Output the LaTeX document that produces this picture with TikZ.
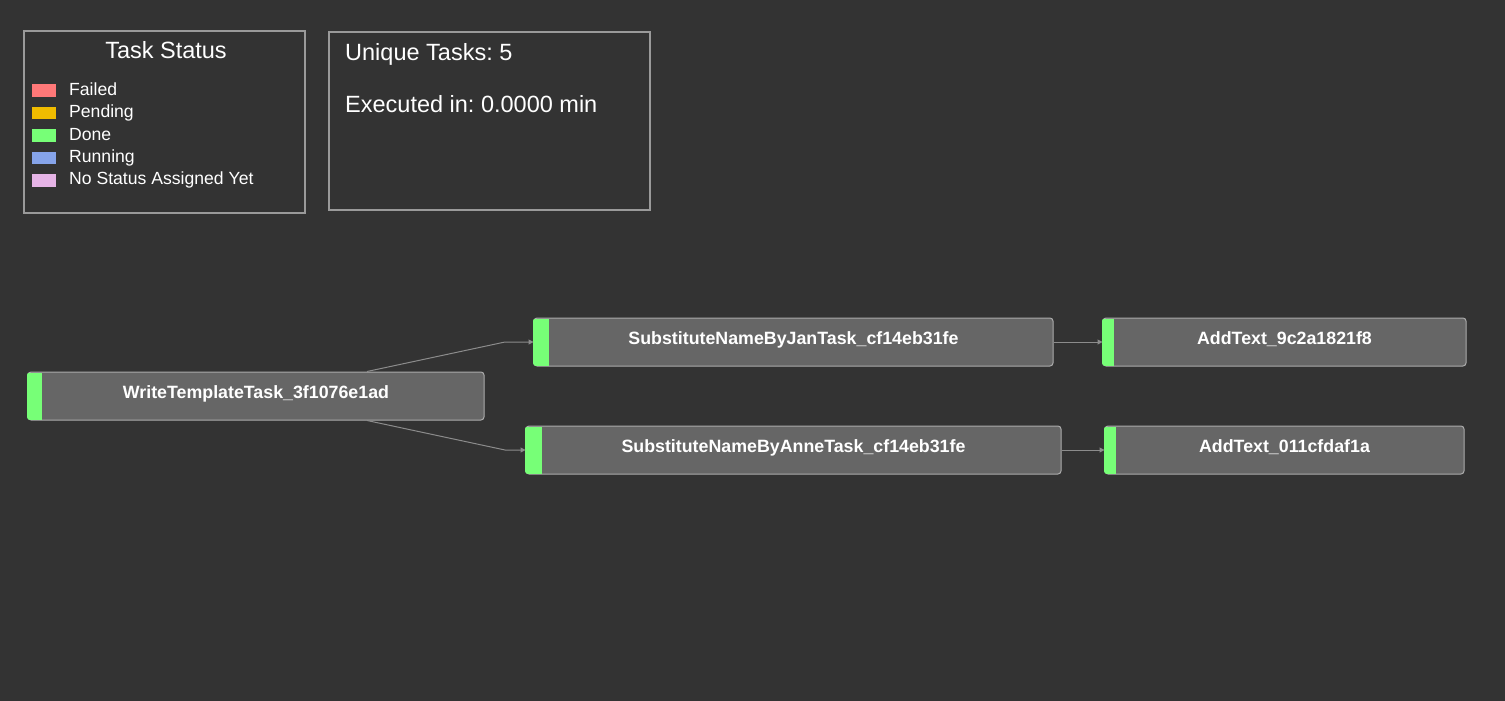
\documentclass[tikz,border=0pt]{standalone}
\usepackage{fontspec}
\setmainfont{Liberation Sans}
\usetikzlibrary{arrows.meta,calc}
\frenchspacing
\definecolor{bg}{HTML}{333333}
\definecolor{panelline}{HTML}{9A9A9A}
\definecolor{nodefill}{HTML}{666666}
\definecolor{nodeline}{HTML}{ABABAB}
\definecolor{edgecol}{HTML}{8C8C8C}
\definecolor{failed}{HTML}{FF7878}
\definecolor{pending}{HTML}{F0BC00}
\definecolor{done}{HTML}{77FF77}
\definecolor{running}{HTML}{86A4EA}
\definecolor{nostatus}{HTML}{E6B4E6}
\tikzset{
  panel/.style={draw=panelline, line width=2pt, inner sep=0pt, anchor=north west},
  swatch/.style={inner sep=0pt, minimum width=24pt, minimum height=12.5pt, anchor=north west},
  legtext/.style={text=white, anchor=base west, inner sep=0pt, font=\fontsize{17.6}{20}\selectfont},
  bigtext/.style={text=white, inner sep=0pt, font=\fontsize{23.5}{26}\selectfont},
  task/.style={draw=nodeline, fill=nodefill, line width=1pt, rounded corners=3pt,
    minimum height=48pt, inner sep=0pt, text=white, text height=7pt, text depth=2pt,
    font=\bfseries\fontsize{17.8}{20}\selectfont},
  edge/.style={draw=edgecol, line width=1pt, -{Triangle[length=5pt,width=5pt]}}
}
\begin{document}
\begin{tikzpicture}[x=1pt,y=-1pt]
\fill[bg] (0,0) rectangle (1505,701);
\useasboundingbox (0,0) rectangle (1505,701);

% legend panel
\node[panel, minimum width=281pt, minimum height=181pt] (legend) at (22.5,30.5) {};
\node[bigtext, anchor=base] (ltitle) at (166,59) {Task Status};
\node[swatch, fill=failed] (s1) at (32,84) {};
\node[swatch, fill=pending] (s2) at (32,106.5) {};
\node[swatch, fill=done] (s3) at (32,129) {};
\node[swatch, fill=running] (s4) at (32,151.5) {};
\node[swatch, fill=nostatus] (s5) at (32,174) {};
\node[legtext] (t1) at (69,95.5) {Failed};
\node[legtext] (t2) at (69,117.8) {Pending};
\node[legtext] (t3) at (69,140.1) {Done};
\node[legtext] (t4) at (69,162.4) {Running};
\node[legtext] (t5) at (69,184.7) {No Status Assigned Yet};

% info panel
\node[panel, minimum width=321pt, minimum height=177pt] (info) at (327.5,31.5) {};
\node[bigtext, anchor=base west] (i1) at (345,60) {Unique Tasks: 5};
\node[bigtext, anchor=base west] (i2) at (345,112.5) {Executed in: 0.0000 min};

% tasks
\node[task, minimum width=456pt] (w) at (256,396) {WriteTemplateTask\_3f1076e1ad};
\node[task, minimum width=519pt] (jan) at (793.5,342) {SubstituteNameByJanTask\_cf14eb31fe};
\node[task, minimum width=363pt] (add1) at (1284.5,342) {AddText\_9c2a1821f8};
\node[task, minimum width=535pt] (anne) at (793.5,450) {SubstituteNameByAnneTask\_cf14eb31fe};
\node[task, minimum width=359pt] (add2) at (1284.5,450) {AddText\_011cfdaf1a};

\foreach \n/\b in {w/14,jan/15,add1/11,anne/16,add2/11}{
  \begin{scope}
    \clip[rounded corners=3pt] ([shift={(-0.5,0.5)}]\n.north west) rectangle ([shift={(0.5,-0.5)}]\n.south east);
    \fill[done] ([shift={(-1,1)}]\n.north west) rectangle ([shift={(\b,-1)}]\n.south west);
  \end{scope}
}

% connectors
\coordinate (b1) at (505,342);
\coordinate (b2) at (505,450);
\draw[edge] ([xshift=111pt]w.north) -- (b1) -- (jan.west);
\draw[edge] ([xshift=111pt]w.south) -- (b2) -- (anne.west);
\draw[edge] (jan.east) -- (add1.west);
\draw[edge] (anne.east) -- (add2.west);
\end{tikzpicture}
\end{document}
